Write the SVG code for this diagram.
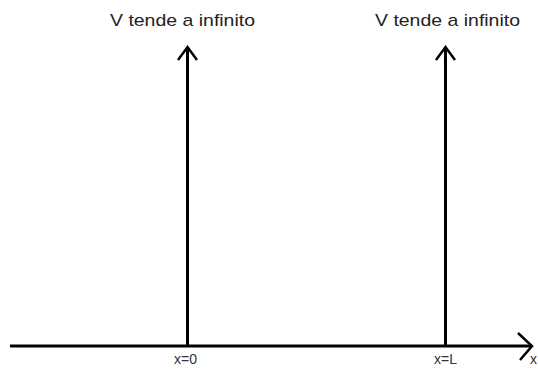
<svg xmlns="http://www.w3.org/2000/svg" width="538" height="370" viewBox="0 0 538 370">
<style>
.ln{stroke:#000;stroke-width:3;fill:none}
.hd{stroke:#000;stroke-width:2.5;fill:none;stroke-linejoin:miter}
.t{font-family:"Liberation Sans",Arial,sans-serif;font-size:17px;fill:#222}
.s{font-family:"Liberation Sans",Arial,sans-serif;font-size:14px;fill:#333}
</style>
<rect width="538" height="370" fill="#fff"/>
<g id="connectors">
<line class="ln" x1="10" y1="346" x2="532" y2="346"/>
<polyline class="hd" points="518,333 532,346 520,360"/>
<line class="ln" x1="187.5" y1="47" x2="187.5" y2="346"/>
<polyline class="hd" points="178,60 187.5,47 197,60"/>
<line class="ln" x1="445.5" y1="47" x2="445.5" y2="346"/>
<polyline class="hd" points="436,60 445.5,47 455,60"/>
</g>
<g id="label-left"><text class="t" x="110" y="26" textLength="145" lengthAdjust="spacingAndGlyphs">V tende a infinito</text></g>
<g id="label-right"><text class="t" x="375" y="26" textLength="145" lengthAdjust="spacingAndGlyphs">V tende a infinito</text></g>
<g id="x0"><text class="s" x="174" y="364" textLength="23" lengthAdjust="spacingAndGlyphs">x=0</text></g>
<g id="xL"><text class="s" x="434" y="364" textLength="23" lengthAdjust="spacingAndGlyphs">x=L</text></g>
<g id="xaxis"><text class="s" x="530" y="364" font-size="11">x</text></g>
</svg>
